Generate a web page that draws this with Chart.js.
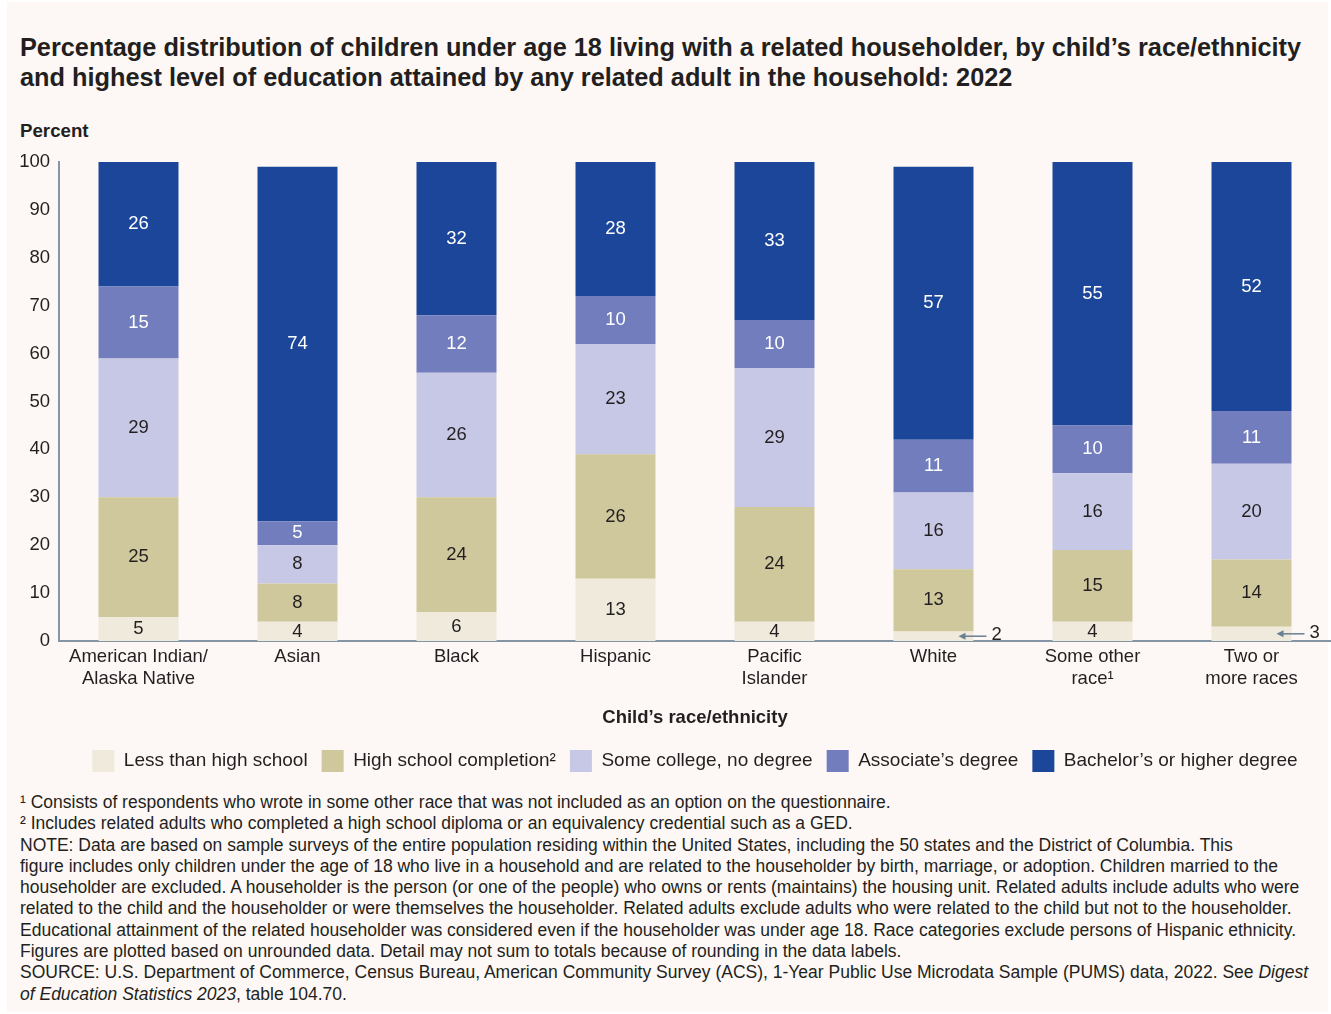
<!DOCTYPE html>
<html>
<head>
<meta charset="utf-8">
<script src="https://cdn.jsdelivr.net/npm/chart.js@4.4.1/dist/chart.umd.min.js"></script>
<style>
  html, body { margin: 0; padding: 0; background: #ffffff; }
  body { width: 1331px; height: 1014px; position: relative; overflow: hidden;
         font-family: "Liberation Sans", Arial, sans-serif; color: #231f20; }
  #panel { position: absolute; left: 7px; top: 2px; width: 1321px; height: 1010px; background: #fdf8f5; }
  #title { position: absolute; left: 20px; top: 32px; font-size: 25.3px; font-weight: bold; line-height: 30px; white-space: nowrap; }
  #ylabel { position: absolute; left: 20px; top: 120px; font-size: 18.7px; font-weight: bold; line-height: 22px; }
  #chartBox { position: absolute; left: 0; top: 140px; width: 1331px; height: 642px; }
  #notes { position: absolute; left: 20px; top: 792px; font-size: 17.5px; line-height: 21.3px; white-space: nowrap; }
</style>
</head>
<body>
<div id="panel"></div>
<div id="title">Percentage distribution of children under age 18 living with a related householder, by child’s race/ethnicity<br>and highest level of education attained by any related adult in the household: 2022</div>
<div id="ylabel">Percent</div>
<div id="chartBox"><canvas id="eduChart"></canvas></div>
<div id="notes">
  <div>¹ Consists of respondents who wrote in some other race that was not included as an option on the questionnaire.</div>
  <div>² Includes related adults who completed a high school diploma or an equivalency credential such as a GED.</div>
  <div>NOTE: Data are based on sample surveys of the entire population residing within the United States, including the 50 states and the District of Columbia. This</div>
  <div>figure includes only children under the age of 18 who live in a household and are related to the householder by birth, marriage, or adoption. Children married to the</div>
  <div>householder are excluded. A householder is the person (or one of the people) who owns or rents (maintains) the housing unit. Related adults include adults who were</div>
  <div>related to the child and the householder or were themselves the householder. Related adults exclude adults who were related to the child but not to the householder.</div>
  <div>Educational attainment of the related householder was considered even if the householder was under age 18. Race categories exclude persons of Hispanic ethnicity.</div>
  <div>Figures are plotted based on unrounded data. Detail may not sum to totals because of rounding in the data labels.</div>
  <div>SOURCE: U.S. Department of Commerce, Census Bureau, American Community Survey (ACS), 1-Year Public Use Microdata Sample (PUMS) data, 2022. See <i>Digest</i></div>
  <div><i>of Education Statistics 2023</i>, table 104.70.</div>
</div>

<script>
// Categories and percentages by highest education level in the household
const categories = [
  ["American Indian/", "Alaska Native"],
  "Asian",
  "Black",
  "Hispanic",
  ["Pacific", "Islander"],
  "White",
  ["Some other", "race¹"],
  ["Two or", "more races"]
];
const lessThanHighSchool = [5, 4, 6, 13, 4, 2, 4, 3];
const highSchoolCompletion = [25, 8, 24, 26, 24, 13, 15, 14];
const someCollege = [29, 8, 26, 23, 29, 16, 16, 20];
const associates = [15, 5, 12, 10, 10, 11, 10, 11];
const bachelorsOrHigher = [26, 74, 32, 28, 33, 57, 55, 52];
const yTicks = [0, 10, 20, 30, 40, 50, 60, 70, 80, 90, 100];

const TEXT = "#231f20";
const AXIS = "#8496a6";
const FONT = '"Liberation Sans", Arial, sans-serif';
const FS = 18.5;

// Value labels inside each segment; tiny segments get an arrow callout to the right
const segmentLabels = {
  id: "segmentLabels",
  afterDatasetsDraw(chart) {
    const ctx = chart.ctx;
    ctx.save();
    ctx.font = FS + "px " + FONT;
    chart.data.datasets.forEach((ds, di) => {
      const meta = chart.getDatasetMeta(di);
      meta.data.forEach((bar, i) => {
        const v = ds.data[i];
        const cy = (bar.y + bar.base) / 2;
        if (v < 4) {
          const right = bar.x + bar.width / 2;
          ctx.strokeStyle = "#6a7f91";
          ctx.fillStyle = "#6a7f91";
          ctx.lineWidth = 1.5;
          ctx.beginPath();
          ctx.moveTo(right + 13, cy);
          ctx.lineTo(right - 10, cy);
          ctx.stroke();
          ctx.beginPath();
          ctx.moveTo(right - 15, cy);
          ctx.lineTo(right - 8, cy - 3.5);
          ctx.lineTo(right - 8, cy + 3.5);
          ctx.closePath();
          ctx.fill();
          ctx.fillStyle = TEXT;
          ctx.textAlign = "left";
          ctx.textBaseline = "middle";
          ctx.fillText(String(v), right + 18, cy - 1);
        } else {
          ctx.fillStyle = di >= 3 ? "#ffffff" : TEXT;
          ctx.textAlign = "center";
          ctx.textBaseline = "middle";
          ctx.fillText(String(v), bar.x, cy);
        }
      });
    });
    ctx.restore();
  }
};

const ctx = document.getElementById("eduChart").getContext("2d");
new Chart(ctx, {
  type: "bar",
  data: {
    labels: categories,
    datasets: [
      { label: "Less than high school", data: lessThanHighSchool, backgroundColor: "#efeadb" },
      { label: "High school completion²", data: highSchoolCompletion, backgroundColor: "#d0c89d" },
      { label: "Some college, no degree", data: someCollege, backgroundColor: "#c7c8e5" },
      { label: "Associate’s degree", data: associates, backgroundColor: "#727dbd" },
      { label: "Bachelor’s or higher degree", data: bachelorsOrHigher, backgroundColor: "#1b4699" }
    ]
  },
  options: {
    responsive: true,
    maintainAspectRatio: false,
    animation: false,
    layout: { padding: { top: 22, right: 0, left: 0, bottom: 0 } },
    datasets: {
      bar: { categoryPercentage: 1, barPercentage: 0.503, borderWidth: 0 }
    },
    scales: {
      x: {
        stacked: true,
        afterFit(scale) { scale.height = 95; },
        grid: { display: false, drawTicks: false },
        border: { color: AXIS, width: 2 },
        ticks: { color: TEXT, font: { family: FONT, size: FS, lineHeight: 1.19 }, padding: 5, maxRotation: 0, autoSkip: false },
        title: { display: true, text: "Child’s race/ethnicity", color: TEXT,
                 font: { family: FONT, size: FS, weight: "bold" }, padding: { top: 0, bottom: 7 } }
      },
      y: {
        stacked: true,
        min: 0,
        max: 100,
        afterBuildTicks(scale) { scale.ticks = yTicks.map(v => ({ value: v })); },
        afterFit(scale) { scale.width = 59; },
        grid: { display: false, drawTicks: false },
        border: { color: AXIS, width: 2 },
        ticks: { color: TEXT, font: { family: FONT, size: FS }, padding: 9 }
      }
    },
    plugins: {
      legend: {
        position: "bottom",
        fullSize: false,
        labels: { color: TEXT, font: { family: FONT, size: 19 }, boxWidth: 22, boxHeight: 22, padding: 14 }
      },
      tooltip: { enabled: false }
    }
  },
  plugins: [segmentLabels]
});
</script>
</body>
</html>
